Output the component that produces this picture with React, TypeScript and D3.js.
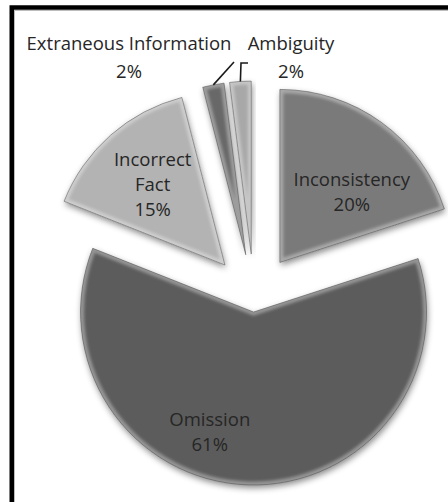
import React from "react";
import * as d3 from "d3";

// Error categories and their share of all findings (percent)
const categories = ["Inconsistency", "Omission", "Incorrect Fact", "Extraneous Information", "Ambiguity"];
const values = [20, 61, 15, 2, 2];
const labelLines = [["Inconsistency"], ["Omission"], ["Incorrect", "Fact"], ["Extraneous Information"], ["Ambiguity"]];

const W = 448;
const H = 502;
const CX = 254;
const CY = 298;
const R = 173;
const FONT = "'Open Sans', 'DejaVu Sans', sans-serif";

const fills: Record<string, string> = {
  "Inconsistency": "#7a7a7a",
  "Omission": "#5c5c5c",
  "Incorrect Fact": "#b3b3b3",
  "Extraneous Information": "#686868",
  "Ambiguity": "#a8a8a8",
};

// how far each slice is pulled out from the centre
const explode: Record<string, number> = {
  "Inconsistency": 44,
  "Omission": 14,
  "Incorrect Fact": 44,
  "Extraneous Information": 44,
  "Ambiguity": 44,
};

// inside labels: polar offset from the slice tip (radius, angle in degrees)
const insideLabel: Record<string, [number, number]> = {
  "Inconsistency": [100, 46],
  "Omission": [128, 200],
  "Incorrect Fact": [108, 318],
};

// outside labels: text centre and leader line elbow
const outsideLabel: Record<string, { x: number; y: number; elbow: [number, number][] }> = {
  "Extraneous Information": { x: 129, y: 50, elbow: [[234, 62]] },
  "Ambiguity": { x: 291, y: 50, elbow: [[241, 63], [248, 63]] },
};

const polar = (r: number, a: number): [number, number] => [r * Math.sin(a), -r * Math.cos(a)];

export default function App() {
  const pie = d3.pie<number>().sort(null).startAngle(0).endAngle(2 * Math.PI);
  const arcs = pie(values);
  const arc = d3.arc<d3.PieArcDatum<number>>().innerRadius(0).outerRadius(R);

  const lineGap = 25;

  return (
    <svg width={W} height={H} style={{ position: "absolute", left: 0, top: 0, background: "#fff" }}>
      <defs>
        <filter id="shadow" x="-20%" y="-20%" width="140%" height="140%">
          <feDropShadow dx="1" dy="3" stdDeviation="3" floodColor="#000" floodOpacity="0.45" />
        </filter>
        <filter id="soft" x="-10%" y="-10%" width="120%" height="120%">
          <feGaussianBlur stdDeviation="1.6" />
        </filter>
        {arcs.map((a, i) => (
          <clipPath id={`clip-${i}`} key={i}>
            <path d={arc(a) || ""} />
          </clipPath>
        ))}
      </defs>

      {/* frame */}
      <rect x={11.75} y={7.5} width={600} height={600} fill="none" stroke="#000" strokeWidth={4.5} />
      <rect x={14.5} y={10.5} width={600} height={600} fill="none" stroke="#bdbdbd" strokeWidth={1} />

      {arcs.map((a, i) => {
        const name = categories[i];
        const mid = (a.startAngle + a.endAngle) / 2;
        const [ox, oy] = polar(explode[name], mid);
        const d = arc(a) || "";
        return (
          <g key={name} transform={`translate(${CX + ox},${CY + oy})`}>
            <path d={d} fill={fills[name]} filter="url(#shadow)" />
            <g clipPath={`url(#clip-${i})`}>
              <path d={d} fill="none" stroke="#ffffff" strokeOpacity={0.35} strokeWidth={7} filter="url(#soft)" />
            </g>
            <path d={d} fill="none" stroke="#4a4a4a" strokeOpacity={0.6} strokeWidth={0.8} />
          </g>
        );
      })}

      {arcs.map((a, i) => {
        const name = categories[i];
        const mid = (a.startAngle + a.endAngle) / 2;
        const [ox, oy] = polar(explode[name], mid);
        const pct = `${values[i]}%`;
        const lines = [...labelLines[i], pct];
        if (insideLabel[name]) {
          const [lr, la] = insideLabel[name];
          const [lx, ly] = polar(lr, (la * Math.PI) / 180);
          const x = CX + ox + lx;
          const yc = CY + oy + ly;
          const y0 = yc - ((lines.length - 1) * lineGap) / 2 + 6;
          return (
            <text key={name} x={x} textAnchor="middle" fontFamily={FONT} fontSize={18.5} fill="#262626">
              {lines.map((t, k) => (
                <tspan key={k} x={x} y={y0 + k * lineGap}>{t}</tspan>
              ))}
            </text>
          );
        }
        const o = outsideLabel[name];
        const [tx, ty] = polar(R, mid);
        const start: [number, number] = [CX + ox + tx, CY + oy + ty];
        const pts = [start, ...o.elbow];
        return (
          <g key={name}>
            <path d={d3.line()(pts) || ""} fill="none" stroke="#1a1a1a" strokeWidth={1.6} />
            <text x={o.x} textAnchor="middle" fontFamily={FONT} fontSize={18.5} fill="#262626">
              {lines.map((t, k) => (
                <tspan key={k} x={o.x} y={o.y + k * 28}>{t}</tspan>
              ))}
            </text>
          </g>
        );
      })}
    </svg>
  );
}
